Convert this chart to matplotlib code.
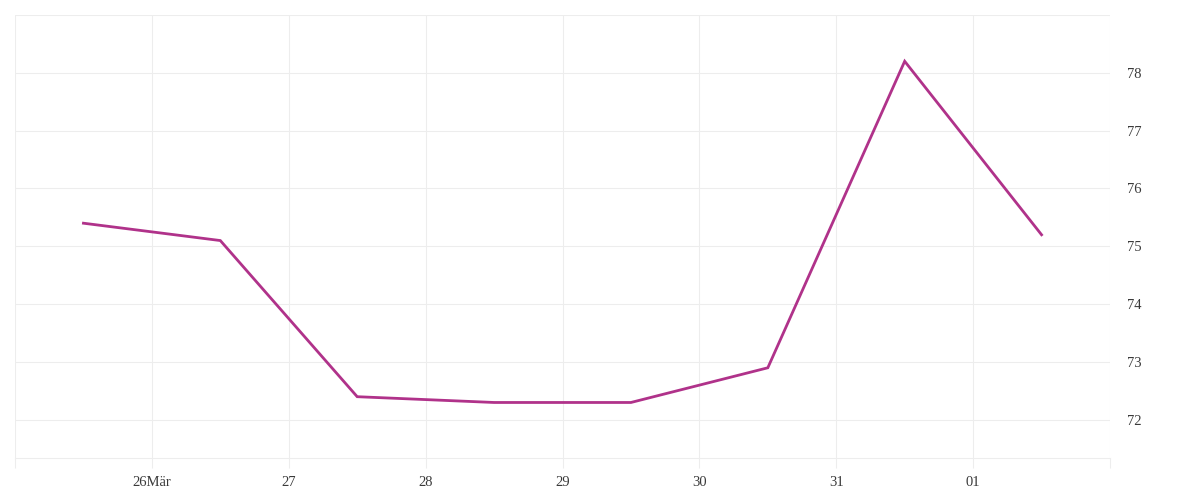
import matplotlib
matplotlib.use("Agg")
import matplotlib.pyplot as plt
import matplotlib.dates as mdates
import numpy as np
import datetime as dt

dates = ["2024-03-25 12:00", "2024-03-26 12:00", "2024-03-27 12:00", "2024-03-28 12:00",
         "2024-03-29 12:00", "2024-03-30 12:00", "2024-03-31 12:00", "2024-04-01 12:00"]
values = [75.4, 75.1, 72.4, 72.3, 72.3, 72.9, 78.2, 75.2]
tick_days = ["2024-03-25", "2024-03-26", "2024-03-27", "2024-03-28", "2024-03-29",
             "2024-03-30", "2024-03-31", "2024-04-01", "2024-04-02"]
tick_labels = ["", "26Mär", "27", "28", "29", "30", "31", "01", ""]
y_ticks = [72, 73, 74, 75, 76, 77, 78, 79]
y_labels = ["72", "73", "74", "75", "76", "77", "78", ""]

x = [dt.datetime.strptime(d, "%Y-%m-%d %H:%M") for d in dates]
xt = [dt.datetime.strptime(d, "%Y-%m-%d") for d in tick_days]

plt.rcParams['font.family'] = ['Liberation Serif', 'DejaVu Serif']
fig = plt.figure(figsize=(12, 5), dpi=100)
ax = fig.add_axes([0.0125, 0.084, 0.9125, 0.886])
grid_c = "#ededed"
ax.plot(x, values, color="#b0328a", linewidth=2.0, solid_joinstyle="miter")
ax.set_xlim(xt[0], xt[-1])
ax.set_ylim(71.34, 79.0)
ax.set_xticks(xt)
ax.set_xticklabels(tick_labels)
ax.set_yticks(y_ticks)
ax.set_yticklabels(y_labels)
ax.yaxis.tick_right()
ax.grid(True, color=grid_c, linewidth=0.8)
ax.tick_params(axis="x", length=7, color=grid_c, width=0.8, labelsize=10.5, labelcolor="#3a3a3a", pad=6)
ax.tick_params(axis="y", length=0, labelsize=10.5, labelcolor="#3a3a3a", pad=12)
for s in ["top", "left", "right"]:
    ax.spines[s].set_visible(False)
ax.spines["bottom"].set_color(grid_c)
ax.spines["bottom"].set_linewidth(0.8)
ax.set_axisbelow(True)
fig.savefig("out.png", dpi=100)
